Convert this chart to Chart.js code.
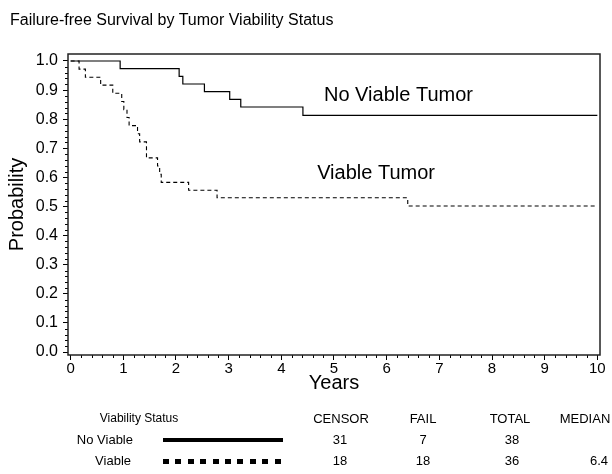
<!DOCTYPE html>
<html>
<head>
<meta charset="utf-8">
<script src="https://cdn.jsdelivr.net/npm/chart.js@4.4.0/dist/chart.umd.min.js"></script>
<style>
    body { margin: 0; background: #fff; font-family: "Liberation Sans", Arial, sans-serif; }
    #wrap { position: relative; width: 612px; height: 474px; }
    #km { position: absolute; left: 0; top: 0; }
    .t { position: absolute; white-space: nowrap; color: #000; line-height: 1; }
    .c { transform: translateX(-50%); }
    .r { transform: translateX(-100%); }
    .solid { position: absolute; left: 163px; top: 438px; width: 120px; height: 4px; background: #000; }
    .dash { position: absolute; left: 163px; top: 459px; width: 120px; height: 5px;
            background: repeating-linear-gradient(90deg, #000 0 6px, transparent 6px 12.4px); }
</style>
</head>
<body>
<div id="wrap">
    <canvas id="km" width="612" height="474"></canvas>
    <div class="t" style="left:10px;top:12px;font-size:16px">Failure-free Survival by Tumor Viability Status</div>

    <div class="t c" style="left:139px;top:412px;font-size:12px">Viability Status</div>
    <div class="t c" style="left:341px;top:412px;font-size:13px">CENSOR</div>
    <div class="t c" style="left:423px;top:412px;font-size:13px">FAIL</div>
    <div class="t c" style="left:510px;top:412px;font-size:13px">TOTAL</div>
    <div class="t c" style="left:585px;top:412px;font-size:13px">MEDIAN</div>

    <div class="t r" style="left:133px;top:433px;font-size:13px">No Viable</div>
    <div class="solid"></div>
    <div class="t c" style="left:340px;top:433px;font-size:13px">31</div>
    <div class="t c" style="left:423px;top:433px;font-size:13px">7</div>
    <div class="t c" style="left:512px;top:433px;font-size:13px">38</div>

    <div class="t r" style="left:131px;top:454px;font-size:13px">Viable</div>
    <div class="dash"></div>
    <div class="t c" style="left:340px;top:454px;font-size:13px">18</div>
    <div class="t c" style="left:423px;top:454px;font-size:13px">18</div>
    <div class="t c" style="left:512px;top:454px;font-size:13px">36</div>
    <div class="t r" style="left:608px;top:454px;font-size:13px">6.4</div>
</div>
<script>
// Kaplan-Meier steps (years, survival after the step)
const noViableYears = [0, 0.94, 2.06, 2.13, 2.54, 3.02, 3.23, 4.41, 10];
const noViableSurv  = [1, 0.974, 0.947, 0.921, 0.895, 0.868, 0.842, 0.813, 0.813];

const viableYears = [0, 0.16, 0.28, 0.57, 0.80, 0.97, 1.01, 1.07, 1.11, 1.27, 1.31, 1.44, 1.65, 1.69, 1.72, 2.24, 2.78, 6.40, 10];
const viableSurv  = [1, 0.972, 0.944, 0.917, 0.889, 0.861, 0.833, 0.806, 0.778, 0.750, 0.722, 0.667, 0.639, 0.611, 0.583, 0.556, 0.530, 0.502, 0.502];

const xTicks = [0, 1, 2, 3, 4, 5, 6, 7, 8, 9, 10];
const yTicks = [0, 0.1, 0.2, 0.3, 0.4, 0.5, 0.6, 0.7, 0.8, 0.9, 1.0];

const curveLabels = [
    { text: 'No Viable Tumor', x: 4.81, y: 0.883 },
    { text: 'Viable Tumor', x: 4.68, y: 0.615 }
];

const FONT = "'Liberation Sans', Arial, sans-serif";
Chart.defaults.font.family = FONT;
Chart.defaults.color = '#000';

function toPoints(xs, ys) {
    return xs.map(function (x, i) { return { x: x, y: ys[i] }; });
}

// frame, minor ticks and in-plot labels
const framePlugin = {
    id: 'frame',
    afterDraw: function (chart) {
        const ctx = chart.ctx;
        const a = chart.chartArea;
        const xs = chart.scales.x, ys = chart.scales.y;
        ctx.save();
        ctx.strokeStyle = '#000';
        ctx.lineWidth = 1;
        ctx.beginPath();
        for (let i = 1; i < 50; i++) {
            if (i % 5 === 0) continue;
            const px = Math.round(xs.getPixelForValue(i * 0.2)) + 0.5;
            ctx.moveTo(px, a.bottom);
            ctx.lineTo(px, a.bottom + 3);
            const py = Math.round(ys.getPixelForValue(i * 0.02)) + 0.5;
            ctx.moveTo(a.left, py);
            ctx.lineTo(a.left - 3, py);
        }
        ctx.stroke();
        ctx.lineWidth = 1.5;
        ctx.strokeStyle = '#222';
        ctx.strokeRect(a.left, a.top, a.right - a.left, a.bottom - a.top);

        ctx.fillStyle = '#000';
        ctx.font = '20px ' + FONT;
        ctx.textBaseline = 'middle';
        ctx.textAlign = 'left';
        curveLabels.forEach(function (l) {
            ctx.fillText(l.text, xs.getPixelForValue(l.x), ys.getPixelForValue(l.y));
        });
        ctx.restore();
    }
};

new Chart(document.getElementById('km'), {
    type: 'line',
    data: {
        datasets: [
            {
                label: 'No Viable',
                data: toPoints(noViableYears, noViableSurv),
                stepped: true,
                borderColor: '#000',
                borderWidth: 1.2,
                pointRadius: 0,
                fill: false
            },
            {
                label: 'Viable',
                data: toPoints(viableYears, viableSurv),
                stepped: true,
                borderColor: '#000',
                borderWidth: 1.1,
                borderDash: [4, 3],
                pointRadius: 0,
                fill: false
            }
        ]
    },
    options: {
        responsive: false,
        animation: false,
        layout: { padding: { top: 54, right: 12, bottom: 75, left: 0 } },
        plugins: { legend: { display: false }, tooltip: { enabled: false } },
        scales: {
            x: {
                type: 'linear',
                min: -0.05,
                max: 10.05,
                afterBuildTicks: function (s) { s.ticks = xTicks.map(function (v) { return { value: v }; }); },
                afterFit: function (s) { s.height = 44; },
                ticks: { font: { size: 15 }, color: '#000', padding: 0, maxRotation: 0 },
                grid: { drawOnChartArea: false, tickLength: 5, color: '#000' },
                border: { display: false },
                title: { display: true, text: 'Years', font: { size: 20 }, color: '#000', padding: { top: 0, bottom: 4 } }
            },
            y: {
                min: -0.01,
                max: 1.024,
                afterBuildTicks: function (s) { s.ticks = yTicks.map(function (v) { return { value: v }; }); },
                afterFit: function (s) { s.width = 68; },
                ticks: { font: { size: 16 }, color: '#000', padding: 5, callback: function (v) { return v.toFixed(1); } },
                grid: { drawOnChartArea: false, tickLength: 5, color: '#000' },
                border: { display: false },
                title: { display: true, text: 'Probability', font: { size: 20 }, color: '#000', padding: { top: 5, bottom: 0 } }
            }
        }
    },
    plugins: [framePlugin]
});
</script>
</body>
</html>
